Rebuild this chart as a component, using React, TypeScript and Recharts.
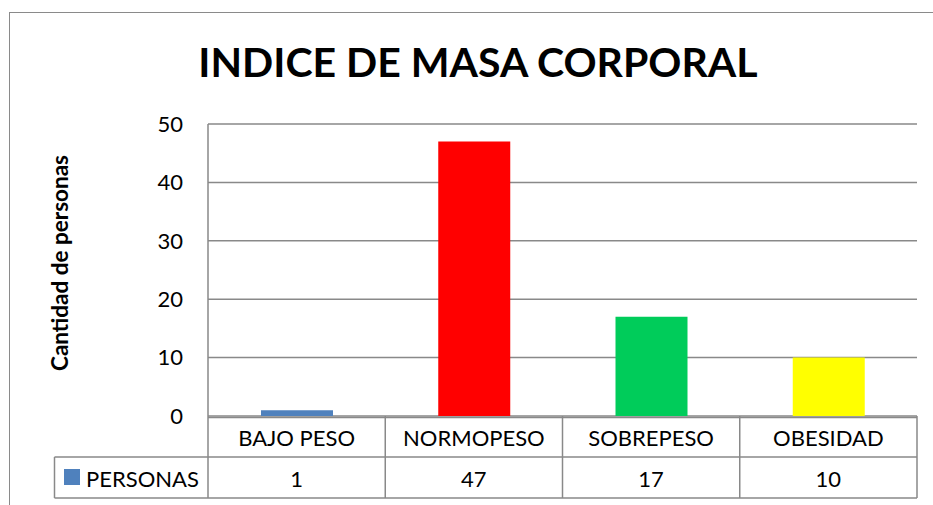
import React from 'react';
import { BarChart, Bar, XAxis, YAxis, CartesianGrid, Cell } from 'recharts';

const categories = ['BAJO PESO', 'NORMOPESO', 'SOBREPESO', 'OBESIDAD'];
const personas = [1, 47, 17, 10];
const barColors = ['#4F81BD', '#FF0000', '#00CC5A', '#FFFF00'];
const yTicks = [0, 10, 20, 30, 40, 50];
const seriesName = 'PERSONAS';
const titleText = 'INDICE DE MASA CORPORAL';
const yLabel = 'Cantidad de personas';

const data = categories.map((c, i) => ({ name: c, value: personas[i] }));

const W = 933;
const H = 505;
const M = { top: 124, right: 16, bottom: 7, left: 0 };
const Y_AXIS_W = 208;
const X_AXIS_H = 82;
const PLOT_W = W - M.left - M.right - Y_AXIS_W;
const CELL_W = PLOT_W / categories.length;
const LINE = '#898989';
const FONT = 'Lato, "Open Sans", sans-serif';
const LEGEND_LEFT = 54.5;
const TABLE_FS = 22;

const TableTick = (props: any) => {
  const { x, y, payload, index } = props;
  const hw = CELL_W / 2;
  const i = payload && typeof payload.index === 'number' ? payload.index : index;
  const left = x - hw;
  const right = x + hw;
  const plotRight = left - i * CELL_W + PLOT_W;
  const rowH = 41;
  return (
    <g>
      <line x1={right} y1={y} x2={right} y2={y + X_AXIS_H} stroke={LINE} strokeWidth={1.5} />
      {i === 0 && (
        <g>
          <line x1={left} y1={y} x2={left} y2={y + X_AXIS_H} stroke={LINE} strokeWidth={1.5} />
          <line x1={left} y1={y + 1.5} x2={plotRight} y2={y + 1.5} stroke={LINE} strokeWidth={1.5} />
          <line x1={LEGEND_LEFT} y1={y + rowH} x2={plotRight} y2={y + rowH} stroke={LINE} strokeWidth={1.5} />
          <line x1={LEGEND_LEFT} y1={y + X_AXIS_H} x2={plotRight} y2={y + X_AXIS_H} stroke={LINE} strokeWidth={1.5} />
          <line x1={LEGEND_LEFT} y1={y + rowH} x2={LEGEND_LEFT} y2={y + X_AXIS_H} stroke={LINE} strokeWidth={1.5} />
          <rect x={64} y={y + 53} width={16} height={16} fill={barColors[0]} />
          <text x={86} y={y + 62} dominantBaseline="central" fontFamily={FONT} fontSize={TABLE_FS} fill="#000">
            {seriesName}
          </text>
        </g>
      )}
      <text x={x} y={y + 21} textAnchor="middle" dominantBaseline="central" fontFamily={FONT} fontSize={TABLE_FS} fill="#000">
        {payload.value}
      </text>
      <text x={x} y={y + 62} textAnchor="middle" dominantBaseline="central" fontFamily={FONT} fontSize={TABLE_FS} fill="#000">
        {personas[i]}
      </text>
    </g>
  );
};

export default function App() {
  return (
    <div style={{ position: 'absolute', left: 0, top: 0, width: W, height: H, overflow: 'hidden', background: '#fff' }}>
      <div
        style={{
          position: 'absolute',
          left: 8.5,
          top: 11.5,
          width: 950,
          height: 520,
          border: '1.5px solid #8a8a8a',
          boxSizing: 'border-box',
        }}
      />
      <div style={{ position: 'absolute', left: 0, top: 0 }}>
        <BarChart width={W} height={H} data={data} margin={M} barSize={72}>
          <CartesianGrid vertical={false} stroke={LINE} strokeWidth={1.5} />
          <XAxis
            dataKey="name"
            height={X_AXIS_H}
            axisLine={false}
            tickLine={false}
            tickSize={0}
            tickMargin={0}
            interval={0}
            tick={<TableTick />}
          />
          <YAxis
            width={Y_AXIS_W}
            domain={[0, 50]}
            ticks={yTicks}
            axisLine={{ stroke: LINE, strokeWidth: 1.5 }}
            tickLine={false}
            tickSize={0}
            tickMargin={25}
            tick={{ fontFamily: FONT, fontSize: 22, fill: '#000' }}
          />
          <Bar dataKey="value" isAnimationActive={false}>
            {data.map((d, i) => (
              <Cell key={d.name} fill={barColors[i]} />
            ))}
          </Bar>
        </BarChart>
      </div>
      <svg width={W} height={H} style={{ position: 'absolute', left: 0, top: 0, pointerEvents: 'none' }}>
        <text x={478} y={77} textAnchor="middle" fontFamily={FONT} fontWeight="bold" fontSize={41} fill="#000">
          {titleText}
        </text>
        <text
          x={0}
          y={0}
          transform="translate(68 263) rotate(-90)"
          textAnchor="middle"
          fontFamily={FONT}
          fontWeight="bold"
          fontSize={22.5}
          fill="#000"
        >
          {yLabel}
        </text>
      </svg>
    </div>
  );
}
